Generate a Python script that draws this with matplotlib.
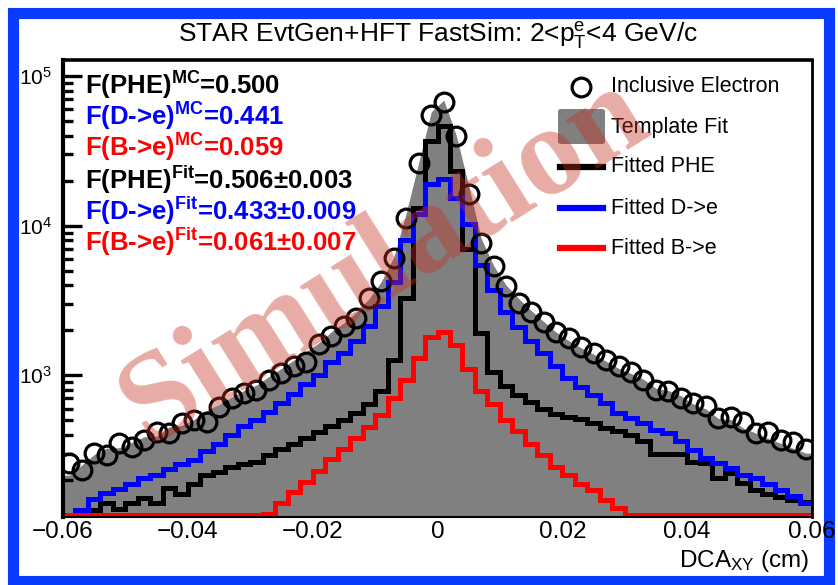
import numpy as np
import matplotlib
matplotlib.use("Agg")
import matplotlib.pyplot as plt
from matplotlib.patches import Rectangle, FancyBboxPatch
from matplotlib.lines import Line2D
from matplotlib.ticker import LogLocator, NullFormatter

plt.rcParams['font.family'] = ['Liberation Sans', 'DejaVu Sans']
plt.rcParams['mathtext.fontset'] = 'custom'
plt.rcParams['mathtext.rm'] = 'Liberation Sans'
plt.rcParams['mathtext.it'] = 'Liberation Sans:italic'
plt.rcParams['mathtext.bf'] = 'Liberation Sans:bold'
plt.rcParams['mathtext.default'] = 'regular'

# ---------------- data ----------------
bin_edges = np.linspace(-0.06, 0.06, 61)

inclusive_electron = [259, 233, 302, 293, 352, 331, 369, 417, 411, 479,
                      501, 486, 612, 710, 763, 794, 926, 1032, 1150, 1220,
                      1630, 1840, 2150, 2420, 3300, 4300, 6120, 11300, 26300, 54900,
                      67100, 39800, 16300, 7700, 5410, 3980, 3020, 2630, 2260, 1940,
                      1770, 1540, 1420, 1260, 1150, 1047, 926, 794, 782, 710,
                      657, 620, 516, 525, 486, 411, 417, 369, 357, 322]

fitted_phe = [95, 108, 126, 141, 128, 141, 152, 141, 177, 161,
              187, 215, 226, 245, 255, 265, 295, 322, 350, 380,
              420, 460, 500, 560, 640, 790, 1259, 3300, 13200, 36900,
              46400, 23300, 7000, 1930, 1060, 850, 740, 660, 600, 550,
              530, 510, 479, 442, 422, 398, 363, 300, 300, 296,
              263, 259, 206, 222, 190, 171, 161, 154, 147, 142]

fitted_d = [105, 126, 150, 163, 175, 187, 205, 215, 235, 255,
            270, 310, 350, 400, 455, 500, 570, 650, 750, 870,
            1000, 1220, 1420, 1700, 2150, 2900, 4200, 8000, 12000, 19000,
            20600, 15400, 10300, 5500, 3700, 2650, 2100, 1700, 1400, 1150,
            960, 830, 735, 653, 562, 516, 479, 430, 411, 363,
            316, 280, 259, 240, 215, 206, 187, 171, 155, 140]

fitted_b = [15, 17, 20, 22, 25, 28, 32, 36, 40, 45,
            50, 56, 63, 72, 82, 95, 118, 140, 165, 195,
            230, 275, 320, 380, 450, 540, 700, 930, 1300, 1800,
            1950, 1600, 1100, 790, 640, 501, 422, 350, 292, 244,
            215, 187, 171, 147, 130, 115, 100, 90, 80, 72,
            64, 57, 50, 44, 39, 34, 30, 26, 23, 20]

fractions_mc = ["0.500", "0.441", "0.059"]
fractions_fit = ["0.506", "0.433", "0.061"]
fractions_fit_err = ["0.003", "0.009", "0.007"]
component_names = ["PHE", "D->e", "B->e"]
legend_labels = ["Inclusive Electron", "Template Fit", "Fitted PHE", "Fitted D->e", "Fitted B->e"]
x_ticks = [-0.06, -0.04, -0.02, 0, 0.02, 0.04, 0.06]

# ---------------- layout ----------------
W, H = 838, 585
YMIN, YMAX = 113, 1.28e5
fig = plt.figure(figsize=(W / 100, H / 100), dpi=100)
ax = fig.add_axes([63 / W, 1 - 517 / H, (812 - 63) / W, (517 - 60) / H])


def fx(px):
    return px / W


def fy(py):
    return 1 - py / H


centers = 0.5 * (bin_edges[:-1] + bin_edges[1:])
phe = np.array(fitted_phe, float)
dd = np.array(fitted_d, float)
bb = np.array(fitted_b, float)
template = phe + dd + bb

xs = np.concatenate([[bin_edges[0]], centers, [bin_edges[-1]]])
ys = np.concatenate([[template[0]], template, [template[-1]]])
ax.fill_between(xs, YMIN, ys, color='#808080', lw=0, zorder=1)

floor = YMIN * 1.035
ax.stairs(np.maximum(phe, floor), bin_edges, baseline=None, color='black', lw=3.6, zorder=2)
ax.stairs(np.maximum(dd, floor), bin_edges, baseline=None, color='#0000ff', lw=3.6, zorder=3)
ax.stairs(np.maximum(bb, floor), bin_edges, baseline=None, color='#ff0000', lw=3.6, zorder=4)

ax.plot(centers, inclusive_electron, 'o', ms=13.5, mfc='none', mec='black', mew=2.3, zorder=5)

ax.set_yscale('log')
ax.set_xlim(-0.06, 0.06)
ax.set_ylim(YMIN, YMAX)

ax.set_xticks(x_ticks)
ax.set_xticklabels(["\u22120.06", "\u22120.04", "\u22120.02", "0", "0.02", "0.04", "0.06"])
ax.tick_params(axis='x', length=0, labelsize=17.5, pad=3)
ax.yaxis.set_major_locator(LogLocator(base=10, numticks=10))
ax.yaxis.set_minor_locator(LogLocator(base=10, subs=np.arange(2, 10), numticks=20))
ax.yaxis.set_minor_formatter(NullFormatter())
ax.tick_params(axis='y', which='major', direction='in', length=14, width=2.4, labelsize=15, pad=8)
ax.tick_params(axis='y', which='minor', direction='in', length=7, width=2.4)

for side, lw in [('left', 3.0), ('top', 2.6), ('right', 2.0), ('bottom', 1.5)]:
    ax.spines[side].set_linewidth(lw)
    ax.spines[side].set_zorder(6)

ax.set_xlabel(r"DCA$_{\mathrm{XY}}$ (cm)", fontsize=17.5, loc='right')
ax.xaxis.set_label_coords((809 - 63) / (812 - 63), -(548 - 517) / (517 - 60))

fig.text(fx(438), fy(36), r"STAR EvtGen+HFT FastSim: 2<$\mathrm{p}_{\mathrm{T}}^{\mathrm{e}}$<4 GeV/c",
         ha='center', va='center', fontsize=19)

# fraction annotations
colors = ['black', '#0000ff', '#ff0000']
ypos = [86, 117, 148, 180, 211, 242]
for i in range(3):
    fig.text(fx(85), fy(ypos[i]),
             "F(%s)$^{\\mathbf{MC}}$=%s" % (component_names[i], fractions_mc[i]),
             color=colors[i], fontsize=18.5, fontweight='bold', ha='left', va='center')
for i in range(3):
    fig.text(fx(85), fy(ypos[i + 3]),
             "F(%s)$^{\\mathbf{Fit}}$=%s\u00b1%s" % (component_names[i], fractions_fit[i], fractions_fit_err[i]),
             color=colors[i], fontsize=18.5, fontweight='bold', ha='left', va='center')

# legend (manual)
fig.add_artist(Line2D([fx(581)], [fy(87)], marker='o', ms=13.5, mfc='none', mec='black', mew=2.3))
fig.add_artist(FancyBboxPatch((fx(558), fy(144)), fx(47), (35) / H,
                              boxstyle="round,pad=0,rounding_size=0.004",
                              fc='#808080', ec='none', transform=fig.transFigure))
for y, c in zip([167, 208, 248], ['black', '#0000ff', '#ff0000']):
    fig.add_artist(Line2D([fx(560), fx(603)], [fy(y), fy(y)], color=c, lw=4.5))
for y, lab in zip([87, 127, 167, 208, 248], legend_labels):
    fig.text(fx(611), fy(y), lab, fontsize=15.5, ha='left', va='center')

# watermark
fig.text(fx(385), fy(262), "Simulation", rotation=32, fontsize=92, family='Liberation Serif',
         fontweight='bold', color=(0.78, 0.18, 0.12), alpha=0.40, ha='center', va='center',
         zorder=20)

# blue frame (behind the axes so tick labels stay visible)
fig.add_artist(Rectangle((fx(12.5), fy(581)), fx(829 - 12.5), (581 - 12.5) / H,
                         fill=False, ec='#0a3cff', lw=8, transform=fig.transFigure, zorder=-1))

fig.savefig("out.png", dpi=100)
